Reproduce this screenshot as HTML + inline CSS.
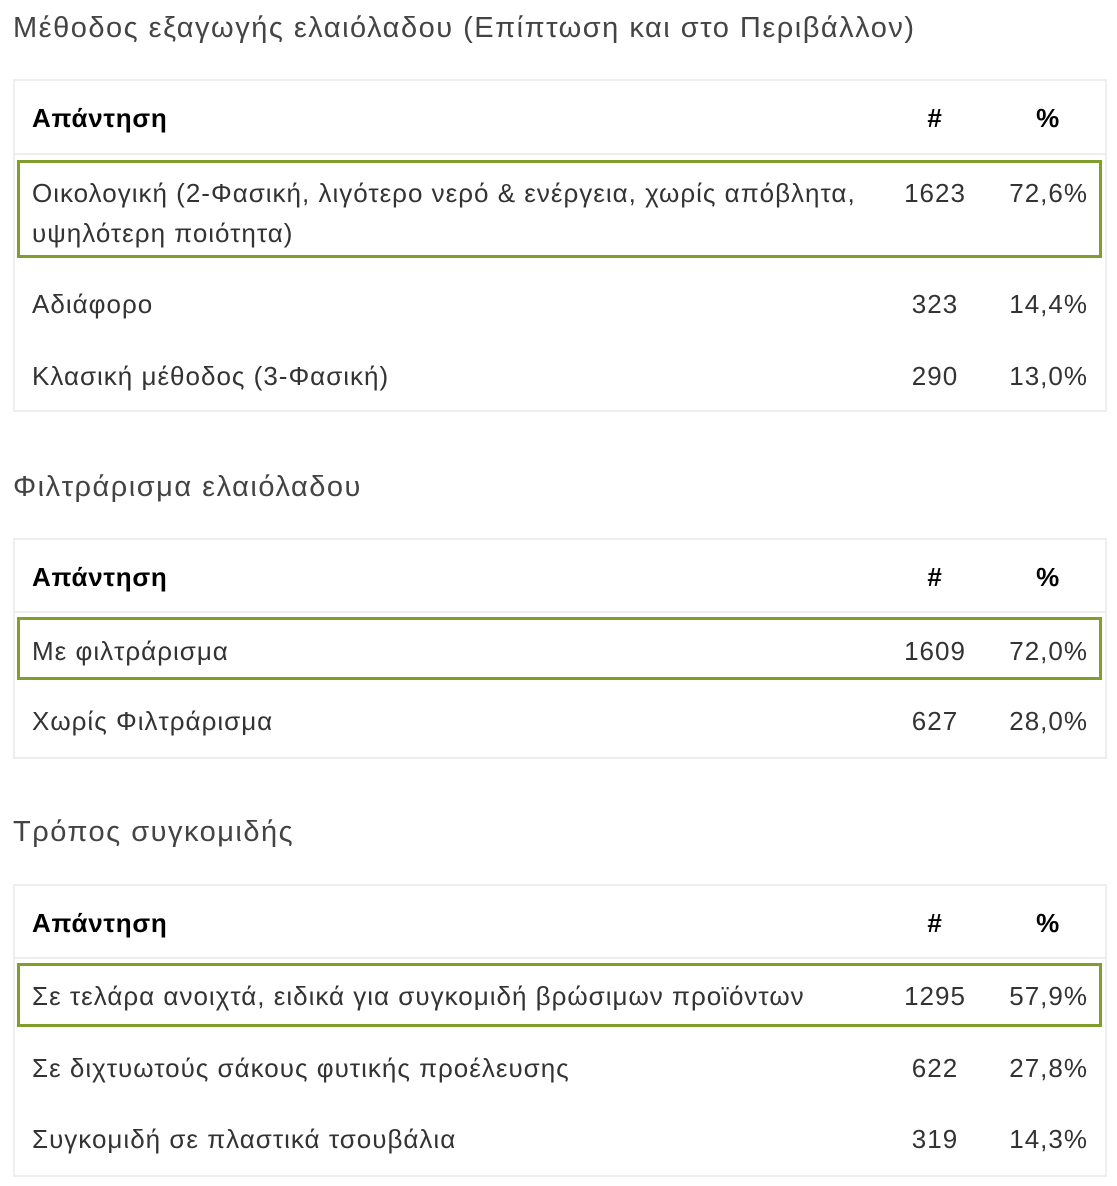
<!DOCTYPE html>
<html><head><meta charset="utf-8"><style>
body{margin:0;width:1117px;height:1186px;background:#fff;position:relative;font-family:"Liberation Sans",Arial,sans-serif;color:#333;overflow:hidden}
.t{position:absolute;left:13px;font-size:29px;letter-spacing:1.5px;color:#444;line-height:30px;white-space:nowrap}
.tbl{position:absolute;left:13px;width:1094px;border:2px solid #eee;box-sizing:border-box}
.hl{position:absolute;left:15px;width:1090px;height:2px;background:#eee}
.g{position:absolute;left:17px;width:1085px;border:3px solid #7f9e2c;box-sizing:border-box}
.x{position:absolute;font-size:26px;letter-spacing:1px;line-height:40px;white-space:nowrap}
.a{left:32px}
.n{left:895px;width:80px;text-align:center}
.p{right:29px;text-align:right}
.b{font-weight:bold;color:#000;letter-spacing:0.75px}
.pc{left:1018px;width:60px;text-align:center}
</style></head><body>
<div class="t" style="top:13px">Μέθοδος εξαγωγής ελαιόλαδου (Επίπτωση και στο Περιβάλλον)</div>
<div class="tbl" style="top:79px;height:333px"></div>
<div class="hl" style="top:153px"></div>
<div class="g" style="top:160px;height:98px"></div>
<div class="x a b" style="top:98px">Απάντηση</div>
<div class="x n b" style="top:98px">#</div>
<div class="x pc b" style="top:98px">%</div>
<div class="x a" style="top:173px;line-height:40px">Οικολογική (2-Φασική, λιγότερο νερό &amp; ενέργεια, χωρίς απόβλητα,<br>υψηλότερη ποιότητα)</div>
<div class="x n" style="top:173px">1623</div>
<div class="x p" style="top:173px">72,6%</div>
<div class="x a" style="top:284px">Αδιάφορο</div>
<div class="x n" style="top:284px">323</div>
<div class="x p" style="top:284px">14,4%</div>
<div class="x a" style="top:356px">Κλασική μέθοδος (3-Φασική)</div>
<div class="x n" style="top:356px">290</div>
<div class="x p" style="top:356px">13,0%</div>

<div class="t" style="top:472px">Φιλτράρισμα ελαιόλαδου</div>
<div class="tbl" style="top:538px;height:221px"></div>
<div class="hl" style="top:611px"></div>
<div class="g" style="top:617px;height:63px"></div>
<div class="x a b" style="top:557px">Απάντηση</div>
<div class="x n b" style="top:557px">#</div>
<div class="x pc b" style="top:557px">%</div>
<div class="x a" style="top:631px">Με φιλτράρισμα</div>
<div class="x n" style="top:631px">1609</div>
<div class="x p" style="top:631px">72,0%</div>
<div class="x a" style="top:701px">Χωρίς Φιλτράρισμα</div>
<div class="x n" style="top:701px">627</div>
<div class="x p" style="top:701px">28,0%</div>

<div class="t" style="top:817px">Τρόπος συγκομιδής</div>
<div class="tbl" style="top:884px;height:293px"></div>
<div class="hl" style="top:957px"></div>
<div class="g" style="top:963px;height:64px"></div>
<div class="x a b" style="top:903px">Απάντηση</div>
<div class="x n b" style="top:903px">#</div>
<div class="x pc b" style="top:903px">%</div>
<div class="x a" style="top:976px">Σε τελάρα ανοιχτά, ειδικά για συγκομιδή βρώσιμων προϊόντων</div>
<div class="x n" style="top:976px">1295</div>
<div class="x p" style="top:976px">57,9%</div>
<div class="x a" style="top:1048px">Σε διχτυωτούς σάκους φυτικής προέλευσης</div>
<div class="x n" style="top:1048px">622</div>
<div class="x p" style="top:1048px">27,8%</div>
<div class="x a" style="top:1119px">Συγκομιδή σε πλαστικά τσουβάλια</div>
<div class="x n" style="top:1119px">319</div>
<div class="x p" style="top:1119px">14,3%</div>
</body></html>
